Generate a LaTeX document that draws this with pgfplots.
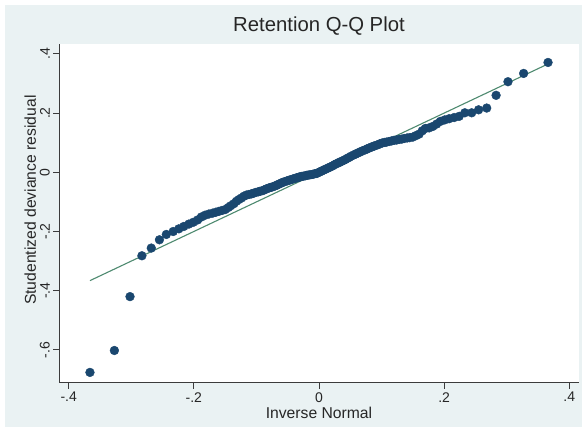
\documentclass[border=0pt]{standalone}
\usepackage{fontspec}
\setmainfont{Liberation Sans}
\usepackage{pgfplots}
\usepackage{pgfplotstable}
\pgfplotsset{compat=1.18}

\definecolor{graphbg}{RGB}{234,242,243}
\definecolor{navymark}{RGB}{26,71,111}
\definecolor{refline}{RGB}{78,138,112}
\definecolor{axisgray}{RGB}{60,60,60}

% Inverse-normal quantile (x) against sorted studentized deviance residual (y)
\pgfplotstableread{
x y
-0.366 -0.676
-0.327 -0.602
-0.302 -0.420
-0.283 -0.282
-0.268 -0.256
-0.255 -0.228
-0.244 -0.210
-0.233 -0.200
-0.224 -0.191
-0.216 -0.183
-0.208 -0.175
-0.201 -0.169
-0.194 -0.161
-0.188 -0.151
-0.182 -0.145
-0.176 -0.141
-0.170 -0.138
-0.165 -0.135
-0.160 -0.132
-0.155 -0.129
-0.150 -0.126
-0.145 -0.119
-0.141 -0.113
-0.136 -0.106
-0.132 -0.098
-0.128 -0.092
-0.124 -0.087
-0.120 -0.081
-0.116 -0.077
-0.112 -0.075
-0.108 -0.073
-0.105 -0.071
-0.101 -0.068
-0.097 -0.066
-0.094 -0.064
-0.090 -0.062
-0.087 -0.059
-0.084 -0.056
-0.080 -0.053
-0.077 -0.051
-0.074 -0.049
-0.070 -0.046
-0.067 -0.043
-0.064 -0.040
-0.061 -0.037
-0.058 -0.034
-0.055 -0.032
-0.051 -0.029
-0.048 -0.027
-0.045 -0.025
-0.042 -0.023
-0.039 -0.021
-0.036 -0.019
-0.033 -0.017
-0.031 -0.016
-0.028 -0.014
-0.025 -0.013
-0.022 -0.012
-0.019 -0.010
-0.016 -0.009
-0.013 -0.008
-0.010 -0.007
-0.007 -0.005
-0.004 -0.004
-0.002 -0.002
0.002 0.002
0.004 0.004
0.007 0.007
0.010 0.010
0.013 0.013
0.016 0.016
0.019 0.019
0.022 0.022
0.025 0.026
0.028 0.029
0.031 0.032
0.033 0.034
0.036 0.037
0.039 0.040
0.042 0.043
0.045 0.047
0.048 0.050
0.051 0.054
0.055 0.058
0.058 0.061
0.061 0.064
0.064 0.067
0.067 0.070
0.070 0.073
0.074 0.076
0.077 0.079
0.080 0.082
0.084 0.085
0.087 0.088
0.090 0.090
0.094 0.093
0.097 0.096
0.101 0.099
0.105 0.101
0.108 0.102
0.112 0.104
0.116 0.106
0.120 0.108
0.124 0.109
0.128 0.111
0.132 0.112
0.136 0.114
0.141 0.116
0.145 0.117
0.150 0.119
0.155 0.124
0.160 0.129
0.165 0.140
0.170 0.148
0.176 0.150
0.182 0.155
0.188 0.163
0.194 0.172
0.201 0.177
0.208 0.181
0.216 0.185
0.224 0.189
0.233 0.201
0.244 0.201
0.255 0.211
0.268 0.217
0.283 0.260
0.302 0.306
0.327 0.334
0.366 0.371
}\qqdata

\begin{document}
\begin{tikzpicture}[x=1pt,y=1pt]
\useasboundingbox (0,0) rectangle (582,429);
\fill[white] (0,0) rectangle (582,429);
\fill[graphbg] (5,2) rectangle (582,424);
\begin{axis}[
  at={(59.3pt,46.3pt)}, anchor=south west,
  width=519.4pt, height=338.7pt, scale only axis,
  xmin=-0.415, xmax=0.415, ymin=-0.7108, ymax=0.4334,
  axis x line*=bottom, axis y line*=left,
  axis line style={axisgray, line width=0.9pt},
  axis background/.style={fill=white},
  xtick={-0.4,-0.2,0,0.2,0.4}, xticklabels={-.4,-.2,0,.2,.4},
  ytick={-0.6,-0.4,-0.2,0,0.2,0.4}, yticklabels={-.6,-.4,-.2,0,.2,.4},
  tick align=outside, major tick length=6pt,
  tick style={axisgray, line width=0.9pt},
  ticklabel style={font=\fontsize{14}{16}\selectfont, text=black!85},
  yticklabel style={rotate=90, anchor=south},
  title={Retention Q-Q Plot},
  title style={at={(0.5,1)}, anchor=base, yshift=6pt,
    font=\fontsize{20.3}{24}\selectfont, text=black!85},
  xlabel={Inverse Normal},
  xlabel style={at={(axis description cs:0.5,0)}, anchor=base, yshift=-36pt,
    font=\fontsize{15.7}{18}\selectfont, text=black!85},
  ylabel={Studentized deviance residual},
  ylabel style={at={(axis description cs:-0.056,0.539)}, anchor=center,
    font=\fontsize{15.7}{18}\selectfont, text=black!85},
  clip=false,
]
\addplot[only marks, mark=*, mark size=4.4pt,
  mark options={fill=navymark, draw=navymark}] table[x=x, y=y] {\qqdata};
\addplot[refline, line width=1.1pt] coordinates {(-0.366,-0.366) (0.366,0.366)};
\end{axis}
\end{tikzpicture}
\end{document}
